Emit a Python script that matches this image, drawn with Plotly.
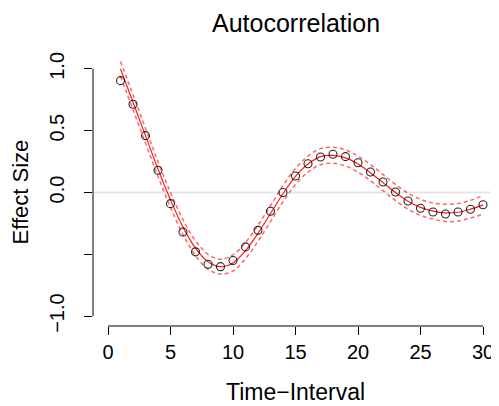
import plotly.graph_objects as go

# ---- data ----
t = list(range(1, 31))
acf_obs = [0.905, 0.714, 0.46, 0.18, -0.09, -0.32, -0.48, -0.58, -0.60, -0.55,
           -0.44, -0.306, -0.152, 0.0, 0.134, 0.233, 0.287, 0.309, 0.29, 0.241,
           0.166, 0.085, 0.004, -0.069, -0.128, -0.158, -0.174, -0.158, -0.136, -0.099]
fit = [1.00, 0.73, 0.46, 0.19, -0.06, -0.28, -0.45, -0.56, -0.60, -0.57,
       -0.47, -0.33, -0.17, -0.01, 0.13, 0.23, 0.29, 0.30, 0.28, 0.23,
       0.16, 0.08, 0.00, -0.07, -0.12, -0.15, -0.165, -0.16, -0.135, -0.10]
upper = [1.06, 0.79, 0.52, 0.25, 0.00, -0.22, -0.39, -0.50, -0.54, -0.505,
         -0.405, -0.265, -0.105, 0.055, 0.195, 0.295, 0.355, 0.366, 0.345, 0.295,
         0.225, 0.145, 0.065, -0.005, -0.055, -0.085, -0.095, -0.09, -0.063, -0.025]
lower = [0.94, 0.67, 0.40, 0.13, -0.12, -0.34, -0.51, -0.62, -0.66, -0.635,
         -0.535, -0.395, -0.235, -0.075, 0.065, 0.165, 0.225, 0.236, 0.215, 0.165,
         0.095, 0.015, -0.065, -0.135, -0.185, -0.215, -0.235, -0.23, -0.207, -0.175]

x_ticks = [0, 5, 10, 15, 20, 25, 30]
y_ticks = [-1.0, -0.5, 0.0, 0.5, 1.0]
y_ticktext = ["\u22121.0", "", "0.0", "0.5", "1.0"]

title_text = "Autocorrelation"
x_label = "Time\u2212Interval"
y_label = "Effect Size"

FONT = "Liberation Sans, Arial, Helvetica, sans-serif"

fig = go.Figure()
fig.add_trace(go.Scatter(x=t, y=upper, mode="lines", line=dict(color="rgba(255,0,0,0.6)", width=1.5, dash="4px,3px", shape="spline"), hoverinfo="skip"))
fig.add_trace(go.Scatter(x=t, y=lower, mode="lines", line=dict(color="rgba(255,0,0,0.6)", width=1.5, dash="4px,3px", shape="spline"), hoverinfo="skip"))
fig.add_trace(go.Scatter(x=t, y=fit, mode="lines", line=dict(color="rgba(255,0,0,0.9)", width=1.2, shape="spline")))
fig.add_trace(go.Scatter(x=t, y=acf_obs, mode="markers",
                         marker=dict(symbol="circle-open", size=8, color="rgba(0,0,0,0.85)", line=dict(width=1.1))))

# zero reference line
fig.add_shape(type="line", xref="paper", yref="y", x0=0, x1=1, y0=0, y1=0,
              line=dict(color="#e6e6e6", width=2), layer="below")
# R-style axis lines spanning first..last tick
fig.add_shape(type="line", xref="x", yref="paper", x0=x_ticks[0], x1=x_ticks[-1], y0=0, y1=0,
              line=dict(color="black", width=1))
fig.add_shape(type="line", xref="paper", yref="y", x0=0, x1=0, y0=y_ticks[0], y1=y_ticks[-1],
              line=dict(color="black", width=1))

# page body has an 8px default margin, so the figure is sized to fit the 499x406 window
fig.update_layout(
    width=491, height=398,
    margin=dict(l=85, r=1, t=51, b=80),
    paper_bgcolor="white", plot_bgcolor="white",
    showlegend=False,
    font=dict(family=FONT, color="black", size=20),
    xaxis=dict(range=[-1.2, 31.2], tickvals=x_ticks, showgrid=False, zeroline=False,
               showline=False, ticks="outside", ticklen=8, tickcolor="black",
               tickfont=dict(size=20), ticklabelstandoff=0),
    yaxis=dict(range=[-1.08, 1.08], tickvals=y_ticks, ticktext=y_ticktext, showgrid=False,
               zeroline=False, showline=False, ticks="outside", ticklen=8, tickcolor="black",
               tickangle=-90, tickfont=dict(size=20), ticklabelstandoff=12),
    annotations=[
        dict(text=title_text, xref="paper", yref="paper", x=0.5, y=1, yshift=51, borderpad=0,
             showarrow=False, xanchor="center", yanchor="top", font=dict(size=25)),
        dict(text=x_label, xref="paper", yref="paper", x=0.5, y=0, yshift=-66,
             showarrow=False, xanchor="center", yanchor="middle", font=dict(size=23)),
        dict(text=y_label, xref="paper", yref="paper", x=0, y=0.5, xshift=-73,
             showarrow=False, xanchor="center", yanchor="middle", textangle=-90, font=dict(size=22)),
    ],
)

fig.write_html("out.html")
